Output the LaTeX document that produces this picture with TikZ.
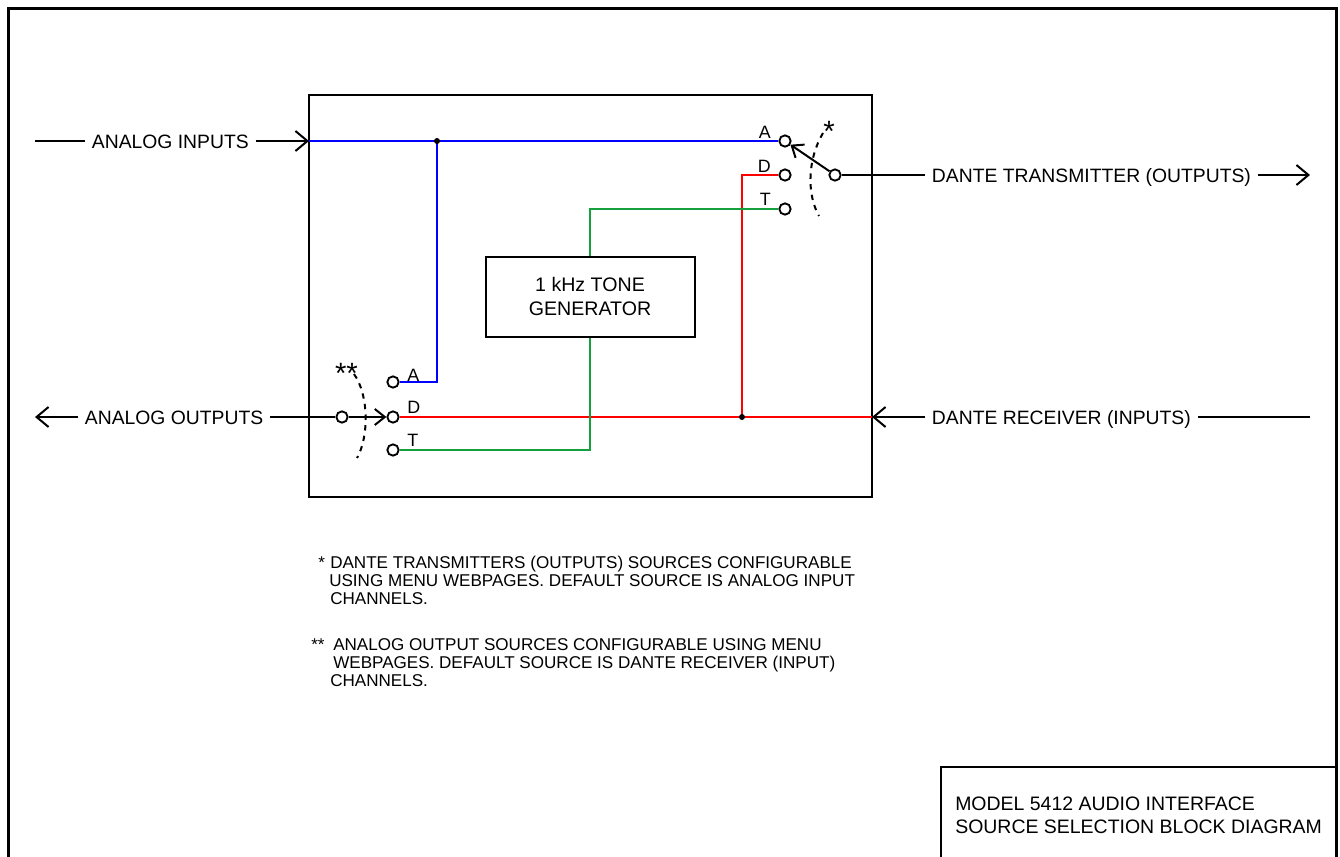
\documentclass[tikz,border=0pt]{standalone}
\usepackage{fontspec}
\setmainfont{Liberation Sans}
\usetikzlibrary{arrows.meta}
\definecolor{wblue}{RGB}{0,0,255}
\definecolor{wred}{RGB}{255,0,0}
\definecolor{wgreen}{RGB}{20,160,60}
\begin{document}
\begin{tikzpicture}[x=0.75pt,y=-0.75pt,
  wire/.style={line width=1.5pt},
  bigarrow/.style={-{Straight Barb[length=9pt,width=15pt,line width=1.5pt]}},
  swarrow/.style={-{Straight Barb[length=7.5pt,width=12pt,line width=1.5pt]}},
  term/.style={circle,draw,line width=1.4pt,minimum size=8.5pt,inner sep=0pt,fill=white},
  jdot/.style={circle,fill=black,inner sep=0pt,minimum size=4.5pt},
  lbl/.style={font=\fontsize{14.5pt}{17pt}\selectfont,inner xsep=5pt,inner ysep=0pt,anchor=base west},
  letter/.style={font=\fontsize{13.4pt}{15pt}\selectfont,inner sep=0pt},
  star/.style={font=\fontsize{22pt}{24pt}\selectfont,inner sep=0pt,anchor=base},
  notetxt/.style={font=\fontsize{12.8pt}{13.5pt}\selectfont,inner sep=0pt,anchor=base west},
  dashline/.style={line width=1.5pt,dash pattern=on 4pt off 4pt}
]
\useasboundingbox (0,0) rectangle (1340,857);

% outer frame
\draw[line width=2.25pt] (8,857) -- (8,8) -- (1336,8) -- (1336,857);
% title block
\draw[line width=1.5pt] (941,857) -- (941,767) -- (1336,767);
\node[font=\fontsize{14.6pt}{17.25pt}\selectfont,inner sep=0pt,anchor=north west,align=left] (title) at (955,797)
  {MODEL 5412 AUDIO INTERFACE\\SOURCE SELECTION BLOCK DIAGRAM};

% main box
\draw[line width=1.5pt] (309,95) rectangle (872,497);

% tone generator
\node[draw,line width=1.5pt,minimum width=156.75pt,minimum height=60pt,align=center,
  font=\fontsize{14.7pt}{18pt}\selectfont] (tone) at (590,296.5) {1 kHz TONE\\GENERATOR};

% terminals upper switch
\node[term] (uA) at (785,141) {};
\node[term] (uD) at (785,175) {};
\node[term] (uT) at (785,209) {};
\node[term] (uC) at (835,175) {};
\node[letter,anchor=base east] at (771,138) {A};
\node[letter,anchor=base east] at (771,172) {D};
\node[letter,anchor=base east] at (771,205) {T};
\node[star] (s1) at (829,141) {*};

% terminals lower switch
\node[term] (lA) at (393,382) {};
\node[term] (lD) at (393,417) {};
\node[term] (lT) at (393,450) {};
\node[term] (lC) at (342,417) {};
\node[letter,anchor=base west] at (407,381) {A};
\node[letter,anchor=base west] at (407,413) {D};
\node[letter,anchor=base west] at (407,446) {T};
\node[star] (s2) at (346.5,383) {**};

% dashed selector arcs
\draw[dashline] (823,133) .. controls (807,160) and (807,195) .. (819,216);
\draw[dashline] (354,374) .. controls (369,395) and (369,437) .. (357,458);

% switch arrows
\draw[wire,swarrow] (uC) -- (uA);
\draw[wire,swarrow] (lC) -- (lD);

% coordinates on the box edges and ends
\coordinate (inJ) at (309,141);
\coordinate (rJ) at (872,417);
\coordinate (ainL) at (35,141);
\coordinate (aoL) at (35,417);
\coordinate (dtR) at (1310,175);
\coordinate (drR) at (1310,417);

% labels
\node[lbl] (ainT) at (85,148) {ANALOG INPUTS};
\node[lbl] (aoT) at (78,424) {ANALOG OUTPUTS};
\node[lbl] (dtT) at (925,182) {DANTE TRANSMITTER (OUTPUTS)};
\node[lbl] (drT) at (925,424) {DANTE RECEIVER (INPUTS)};

% external connections
\draw[wire] (ainL) -- (ainL -| ainT.west);
\draw[wire,bigarrow] (ainT.east |- inJ) -- (inJ);
\draw[wire,bigarrow] (aoL -| aoT.west) -- (aoL);
\draw[wire] (aoT.east |- lC) -- (lC);
\draw[wire] (uC) -- (uC -| dtT.west);
\draw[wire,bigarrow] (dtT.east |- uC) -- (dtR);
\draw[wire,bigarrow] (rJ -| drT.west) -- (rJ);
\draw[wire] (drT.east |- rJ) -- (drR);

% junctions
\coordinate (jA) at (437,141);
\coordinate (jD) at (742,417);

% blue: analog inputs
\draw[wire,wblue] (inJ) -- (uA);
\draw[wire,wblue] (jA) |- (lA);
% red: dante receiver
\draw[wire,wred] (lD) -- (rJ);
\draw[wire,wred] (jD) |- (uD);
% green: tone
\draw[wire,wgreen] (lT) -| (tone.south);
\draw[wire,wgreen] (tone.north) |- (uT);

\node[jdot] at (jA) {};
\node[jdot] at (jD) {};

% notes
\node[notetxt] at (318,568) {*};
\node[notetxt] at (330,568) {DANTE TRANSMITTERS (OUTPUTS) SOURCES CONFIGURABLE};
\node[notetxt] at (329,586) {USING MENU WEBPAGES. DEFAULT SOURCE IS ANALOG INPUT};
\node[notetxt] at (330,604) {CHANNELS.};
\node[notetxt] at (311,650) {**};
\node[notetxt] at (333,650) {ANALOG OUTPUT SOURCES CONFIGURABLE USING MENU};
\node[notetxt] at (333,668) {WEBPAGES. DEFAULT SOURCE IS DANTE RECEIVER (INPUT)};
\node[notetxt] at (330,686) {CHANNELS.};
\end{tikzpicture}
\end{document}
